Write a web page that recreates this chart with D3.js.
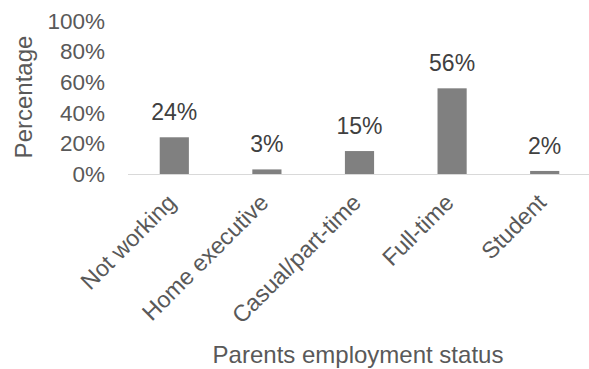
<!DOCTYPE html>
<html><head><meta charset="utf-8">
<script src="https://cdn.jsdelivr.net/npm/d3@7"></script>
<style>body{margin:0;background:#fff}svg{display:block}text{font-family:"Liberation Sans",Arial,sans-serif;fill:#595959}</style>
</head><body><svg id="c" width="589" height="369"></svg>
<script>
const categories = ["Not working","Home executive","Casual/part-time","Full-time","Student"];
const values = [24,3,15,56,2];
const yTicks = [0,20,40,60,80,100];
const yTitle = "Percentage";
const xTitle = "Parents employment status";

const svg = d3.select("#c");
const x = d3.scaleBand().domain(categories).range([128,591]).paddingInner(0.685).paddingOuter(0.3425);
const y = d3.scaleLinear().domain([0,100]).range([174,21]);

svg.append("g").selectAll("text").data(yTicks).join("text")
  .attr("x",105).attr("y",d=>y(d)).attr("dy","0.35em").attr("text-anchor","end")
  .attr("font-size",22.5).text(d=>d+"%");

svg.append("g").selectAll("rect").data(values).join("rect")
  .attr("x",(d,i)=>x(categories[i])).attr("width",x.bandwidth())
  .attr("y",d=>y(d)).attr("height",d=>y(0)-y(d)).attr("fill","#808080");

svg.append("line").attr("x1",128).attr("x2",591).attr("y1",y(0)+0.5).attr("y2",y(0)+0.5)
  .attr("stroke","#d9d9d9").attr("stroke-width",1);

svg.append("g").selectAll("text").data(values).join("text")
  .attr("x",(d,i)=>x(categories[i])+x.bandwidth()/2).attr("y",d=>y(d)-17)
  .attr("text-anchor","middle").attr("font-size",23).style("fill","#404040").text(d=>d+"%");

svg.append("g").selectAll("text").data(categories).join("text")
  .attr("transform",d=>`translate(${x(d)+x.bandwidth()/2+3},${204}) rotate(-45)`)
  .attr("text-anchor","end").attr("font-size",23.3).text(d=>d);

svg.append("text").attr("transform",`translate(32,97) rotate(-90)`)
  .attr("text-anchor","middle").attr("font-size",24).text(yTitle);

svg.append("text").attr("x",358).attr("y",363).attr("text-anchor","middle")
  .attr("font-size",24).text(xTitle);
</script></body></html>
